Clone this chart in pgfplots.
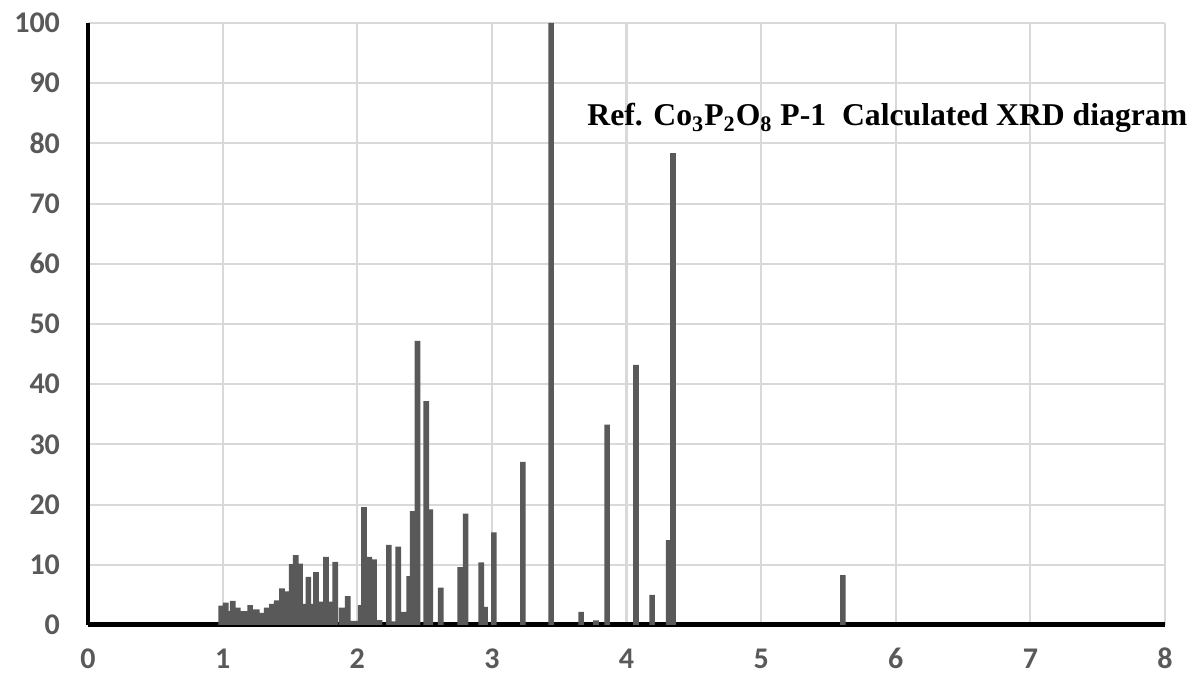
\documentclass[border=0pt]{standalone}
\usepackage{pgfplots}
\pgfplotsset{compat=1.18}
\usepackage{fontspec}
\setmainfont{Liberation Serif}
\setsansfont{Carlito}
\definecolor{barc}{HTML}{595959}
\definecolor{grd}{HTML}{D9D9D9}
\definecolor{tickc}{HTML}{595959}
\pgfplotsset{layers/mylayers/.define layer set={axis background,axis grid,main,axis ticks,axis lines,axis tick labels,axis descriptions,axis foreground}{}}
\begin{document}
\begin{tikzpicture}
\begin{axis}[
  set layers=mylayers,
  at={(0,0)}, anchor=south west,
  scale only axis, width=538.5pt, height=301pt,
  xmin=0, xmax=8, ymin=0, ymax=100,
  enlargelimits=false,
  xtick={0,...,8}, ytick={0,10,...,100},
  grid=major, major grid style={grd, line width=1pt},
  axis x line=bottom, axis y line=left,
  x axis line style={-, line width=2.5pt, black},
  y axis line style={-, line width=2pt, black},
  tick style={draw=none}, major tick length=0pt,
  /pgf/number format/assume math mode=true,
  ticklabel style={font=\sffamily\bfseries\fontsize{15}{15}\selectfont, text=tickc},
  yticklabel style={xshift=-10.5pt},
  xticklabel style={anchor=base, inner sep=0pt, yshift=-22pt},
  ybar, bar width=0.042,
  clip=false,
]
\addplot[fill=barc, draw=none] coordinates {
(0.990,3.2) (1.023,3.7) (1.048,2.3) (1.075,4.0) (1.112,2.9) (1.137,2.3) (1.161,2.3)
(1.204,3.3) (1.228,2.6) (1.253,2.6) (1.288,2.0) (1.327,2.9) (1.367,3.5) (1.402,4.1)
(1.441,6.1) (1.481,5.6) (1.513,10.1) (1.543,11.6) (1.575,10.2) (1.602,3.5) (1.637,8.0)
(1.664,3.5) (1.694,8.8) (1.731,3.9) (1.768,11.3) (1.803,3.9) (1.837,10.5) (1.885,2.9)
(1.929,4.8) (1.960,0.7) (1.989,0.7) (2.025,3.3) (2.050,19.6) (2.089,11.3) (2.124,10.9)
(2.165,0.8) (2.235,13.3) (2.270,0.6) (2.305,13.0) (2.348,2.2) (2.385,8.1) (2.411,18.9)
(2.448,47.2) (2.513,37.2) (2.543,19.2) (2.620,6.2) (2.764,9.6) (2.805,18.5) (2.921,10.4)
(2.950,3.0) (3.015,15.4) (3.230,27.1) (3.440,100) (3.663,2.2) (3.774,0.75) (3.856,33.3)
(4.071,43.2) (4.190,5.0) (4.313,14.1) (4.345,78.4) (5.607,8.3)
};
\node[anchor=base west, font=\bfseries\fontsize{15.85}{15.85}\selectfont, inner sep=0pt] at (axis cs:3.707,82.9) {Ref. Co\textsubscript{3}P\textsubscript{2}O\textsubscript{8} P-1\ \ Calculated XRD diagram};
\end{axis}
\pgfresetboundingbox
\path[use as bounding box] (-44pt,-26.5pt) rectangle (552pt,312.5pt);
\end{tikzpicture}
\end{document}
